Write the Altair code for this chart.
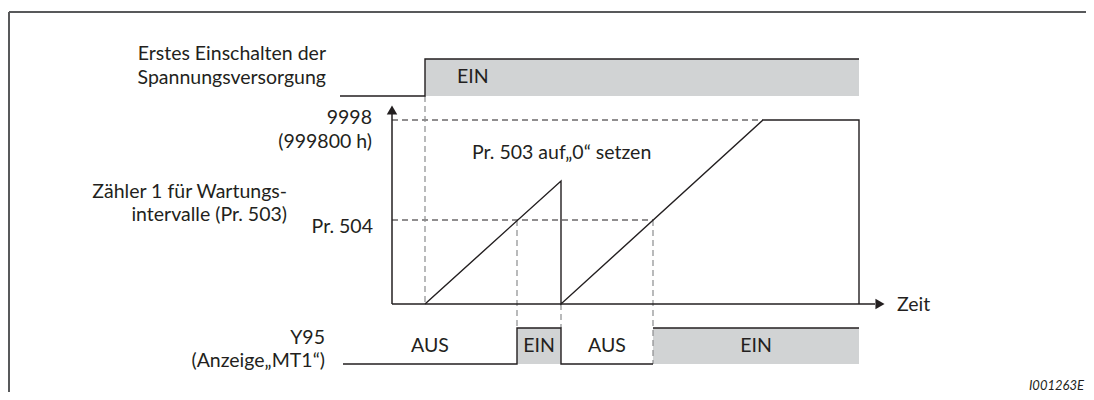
import altair as alt
import pandas as pd

# ---------------- data (time in arbitrary units, 0 = counter axis origin) ----------------
power_times = [-5.2, 3.3, 46.7]
power_states = [0, 1, 1]            # 0 = AUS, 1 = EIN

counter_times = [3.3, 16.9, 16.9, 37.1, 46.7, 46.7]
counter_values = [0, 6684, 0, 9998, 9998, 0]

y95_times = [-4.9, 12.5, 16.9, 26.1, 46.7]
y95_states = [0, 1, 0, 1, 1]
y95_labels = ["AUS", "EIN", "AUS", "EIN"]

max_count = 9998
pr504_value = 4564
power_on_t = 3.3
reset_t = 16.9
cross_times = [12.5, 26.1]
max_reached_t = 37.1
axis_end_t = 48.8

# ---------------- layout ----------------
W, H = 1078, 384
X_DOMAIN = [-38.4, 69.4]
K = max_count / 184.0           # counter units per pixel


def vy(page_y):
    return (304 - page_y) * K


Y_DOMAIN = [vy(392), vy(8)]
POWER_LOW, POWER_HIGH = vy(96), vy(59)
Y95_LOW, Y95_HIGH = vy(364), vy(328)

FONT = "Lato"
FS = 19.5
TXT = "#231f20"
LINE = "#231f20"
GRAY_FILL = "#d1d3d4"
DASH_GRAY = "#8a8c8e"

xs = alt.Scale(domain=X_DOMAIN, nice=False, zero=False)
ys = alt.Scale(domain=Y_DOMAIN, nice=False, zero=False)


def X(f):
    return alt.X(f, type="quantitative", scale=xs, axis=None)


def Y(f):
    return alt.Y(f, type="quantitative", scale=ys, axis=None)


# signal tables
power_df = pd.DataFrame({"t": power_times, "s": power_states})
power_df["v"] = POWER_LOW + power_df["s"] * (POWER_HIGH - POWER_LOW)

# Y95 outline: the last rising edge is drawn dashed (as in the reference), so split there
y95_rows = []
split_i = 3
for i, (t, s) in enumerate(zip(y95_times, y95_states)):
    if i < split_i:
        y95_rows.append({"t": t, "s": s, "seg": 0})
    elif i == split_i:
        y95_rows.append({"t": t, "s": y95_states[i - 1], "seg": 0})
        y95_rows.append({"t": t, "s": s, "seg": 1})
    else:
        y95_rows.append({"t": t, "s": s, "seg": 1})
y95_df = pd.DataFrame(y95_rows)
y95_df["v"] = Y95_LOW + y95_df["s"] * (Y95_HIGH - Y95_LOW)
y95_df["i"] = range(len(y95_df))


# high periods (gray)
def high_periods(times, states):
    rows = []
    for i in range(len(times) - 1):
        if states[i] == 1:
            rows.append({"t": times[i], "t2": times[i + 1]})
    return pd.DataFrame(rows)


power_hi = high_periods(power_times, power_states)
power_hi["v"], power_hi["v2"] = POWER_LOW, POWER_HIGH
y95_hi = high_periods(y95_times, y95_states)
y95_hi["v"], y95_hi["v2"] = Y95_LOW, Y95_HIGH

y95_lab = pd.DataFrame({
    "t": [(y95_times[i] + y95_times[i + 1]) / 2 for i in range(len(y95_labels))],
    "label": y95_labels,
})
y95_lab["v"] = (Y95_LOW + Y95_HIGH) / 2

counter_df = pd.DataFrame({"t": counter_times, "v": counter_values, "i": range(len(counter_times))})

# ---------------- layers ----------------
fills = alt.Chart(pd.concat([power_hi, y95_hi])).mark_rect(color=GRAY_FILL).encode(
    x=X("t"), x2="t2", y=Y("v"), y2="v2")

power_line = alt.Chart(power_df).mark_line(color=LINE, strokeWidth=1.4, interpolate="step-after").encode(
    x=X("t"), y=Y("v"))
y95_line = alt.Chart(y95_df).mark_line(color=LINE, strokeWidth=1.4, interpolate="step-after").encode(
    x=X("t"), y=Y("v"), detail="seg:N", order="i:Q")

counter_line = alt.Chart(counter_df).mark_line(color=LINE, strokeWidth=1.4).encode(
    x=X("t"), y=Y("v"), order="i:Q")

# dashed helper lines
h_dash = pd.DataFrame({"t": [0, 0], "t2": [max_reached_t, cross_times[1]],
                       "v": [max_count, pr504_value], "v2": [max_count, pr504_value]})
h_dashes = alt.Chart(h_dash).mark_rule(color=LINE, strokeWidth=1.2, strokeDash=[6, 4]).encode(
    x=X("t"), x2="t2", y=Y("v"), y2="v2")

v_dash = pd.DataFrame({
    "t": [power_on_t, cross_times[0], reset_t, cross_times[1]],
    "v": [POWER_LOW, pr504_value, 0, pr504_value],
    "v2": [0, Y95_HIGH, Y95_HIGH, Y95_LOW],
})
v_dashes = alt.Chart(v_dash).mark_rule(color=DASH_GRAY, strokeWidth=1.2, strokeDash=[6, 4]).encode(
    x=X("t"), y=Y("v"), y2="v2")

# axes
axes_df = pd.DataFrame({"t": [0, 0], "t2": [0, axis_end_t - 0.5], "v": [0, 0], "v2": [vy(114), 0]})
axes = alt.Chart(axes_df).mark_rule(color=LINE, strokeWidth=1.5).encode(
    x=X("t"), x2="t2", y=Y("v"), y2="v2")

arrow_up = alt.Chart(pd.DataFrame({"t": [0], "v": [vy(110)]})).mark_point(
    shape="triangle-up", filled=True, size=110, color=LINE, opacity=1).encode(x=X("t"), y=Y("v"))
arrow_right = alt.Chart(pd.DataFrame({"t": [axis_end_t], "v": [0]})).mark_point(
    shape="triangle-right", filled=True, size=110, color=LINE, opacity=1).encode(x=X("t"), y=Y("v"))

y95_text = alt.Chart(y95_lab).mark_text(font=FONT, fontSize=FS, color=TXT, align="center",
                                        baseline="middle").encode(x=X("t"), y=Y("v"), text="label")

# frame
frame_top = alt.Chart(pd.DataFrame({"a": [0]})).mark_rule(color="#58595b", strokeWidth=2).encode(
    x=alt.value(1), x2=alt.value(W), y=alt.value(4), y2=alt.value(4))
frame_left = alt.Chart(pd.DataFrame({"a": [0]})).mark_rule(color="#58595b", strokeWidth=2).encode(
    x=alt.value(1), x2=alt.value(1), y=alt.value(4), y2=alt.value(H))


def label(text, x, y, align="right", size=FS, style="normal", baseline="middle"):
    return alt.Chart(pd.DataFrame({"a": [0]})).mark_text(
        text=text, font=FONT, fontSize=size, color=TXT, align=align, baseline=baseline,
        fontStyle=style).encode(x=alt.value(x), y=alt.value(y))


texts = [
    label("Erstes Einschalten der", 318, 46),
    label("Spannungsversorgung", 318, 70),
    label("EIN", 449, 69, align="left"),
    label("9998", 364, 110),
    label("(999800 h)", 364, 134),
    label("Pr. 503 auf\u201e0\u201c setzen", 464, 145, align="left"),
    label("Z\u00e4hler 1 f\u00fcr Wartungs-", 279, 184),
    label("intervalle (Pr. 503)", 279, 207),
    label("Pr. 504", 365, 219),
    label("Zeit", 889, 297, align="left"),
    label("Y95", 317, 330),
    label("(Anzeige\u201eMT1\u201c)", 317, 353),
    label("I001263E", 1076, 382, align="right", size=13, style="italic", baseline="alphabetic"),
]

chart = alt.layer(
    fills, frame_top, frame_left, h_dashes, v_dashes, axes, arrow_up, arrow_right,
    power_line, y95_line, counter_line, y95_text, *texts
).properties(
    width=W, height=H, padding=0, autosize=alt.AutoSizeParams(type="none"), background="white"
).configure_view(stroke=None)

chart.save("out.html", embed_options={"renderer": "svg", "actions": False})
